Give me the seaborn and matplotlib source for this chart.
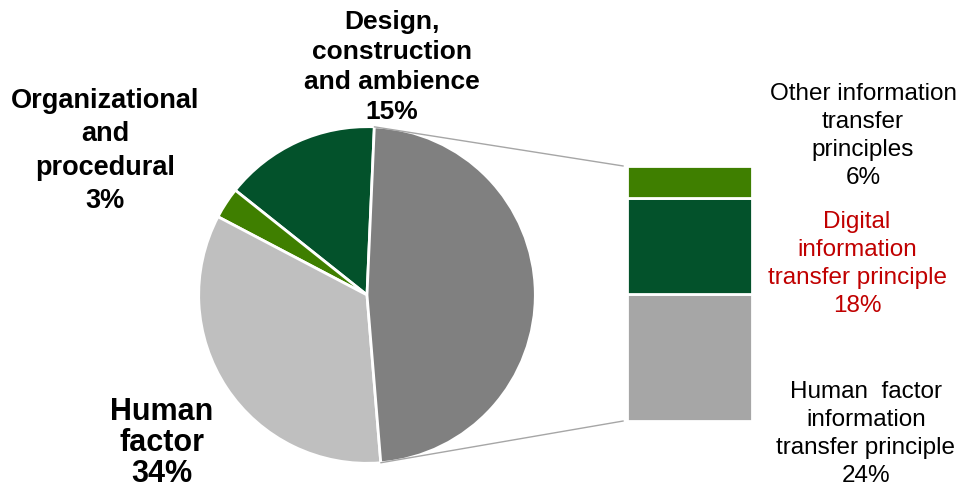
import numpy as np
import seaborn as sns
import matplotlib.pyplot as plt
from matplotlib.patches import ConnectionPatch

# data
pie_labels = ["Design,\nconstruction\nand ambience", "Organizational\nand\nprocedural", "Human\nfactor", "Information transfer"]
pie_values = [15, 3, 34, 48]
pie_colors = ["#03522B", "#3F7F00", "#BFBFBF", "#808080"]

bar_labels = ["Human  factor\ninformation\ntransfer principle", "Digital\ninformation\ntransfer principle", "Other information\ntransfer\nprinciples"]
bar_values = [24, 18, 6]
bar_colors = ["#A6A6A6", "#03522B", "#3F7F00"]

sns.set_theme(style="white")
plt.rcParams['font.family'] = ['Liberation Sans', 'DejaVu Sans']

W, H = 977, 490
fig = plt.figure(figsize=(W / 100, H / 100), dpi=100)

# pie axes
ax_pie = fig.add_axes([197 / W, 25 / H, 340 / W, 340 / H])
start = 90 - 2.5
wedges, _ = ax_pie.pie(pie_values, colors=pie_colors, startangle=start, counterclock=True,
                       wedgeprops=dict(edgecolor="white", linewidth=2))
ax_pie.set_xlim(-1.01, 1.01)
ax_pie.set_ylim(-1.01, 1.01)
ax_pie.set_aspect("equal")

# stacked bar axes
ax_bar = fig.add_axes([627 / W, 69 / H, 125 / W, 255 / H])
bottoms = np.concatenate([[0], np.cumsum(bar_values)[:-1]])
for v, b, c in zip(bar_values, bottoms, bar_colors):
    ax_bar.bar(0, v, bottom=b, width=1, color=c, edgecolor="white", linewidth=2)
ax_bar.set_xlim(-0.5, 0.5)
ax_bar.set_ylim(0, sum(bar_values))
ax_bar.axis("off")

# connector lines from the big slice to the bar
w_big = wedges[-1]
for ang, yb in [(w_big.theta2, sum(bar_values)), (w_big.theta1, 0)]:
    p = (np.cos(np.radians(ang)), np.sin(np.radians(ang)))
    con = ConnectionPatch(xyA=p, coordsA=ax_pie.transData, xyB=(-0.53, yb), coordsB=ax_bar.transData,
                          color="#A6A6A6", lw=1)
    fig.add_artist(con)

# labels
def put(x, y, s, ls=1.2, **kw):
    fig.text(x / W, 1 - y / H, s, ha="center", va="center", multialignment="center",
             linespacing=ls, **kw)

put(392, 67, pie_labels[0] + "\n%d%%" % pie_values[0], ls=1.3, fontsize=19, fontweight="bold", color="black")
put(105, 151, pie_labels[1] + "\n%d%%" % pie_values[1], ls=1.36, fontsize=19.5, fontweight="bold", color="black")
put(162, 443, pie_labels[2] + "\n%d%%" % pie_values[2], ls=1.05, fontsize=22, fontweight="bold", color="black")

put(863, 136, bar_labels[2] + "\n%d%%" % bar_values[2], ls=1.36, fontsize=17.5, color="black")
put(857, 264, bar_labels[1] + "\n%d%%" % bar_values[1], ls=1.36, fontsize=17.5, color="#C00000")
put(866, 434, bar_labels[0] + "\n%d%%" % bar_values[0], ls=1.36, fontsize=17.5, color="black")

fig.savefig("out.png", dpi=100)
